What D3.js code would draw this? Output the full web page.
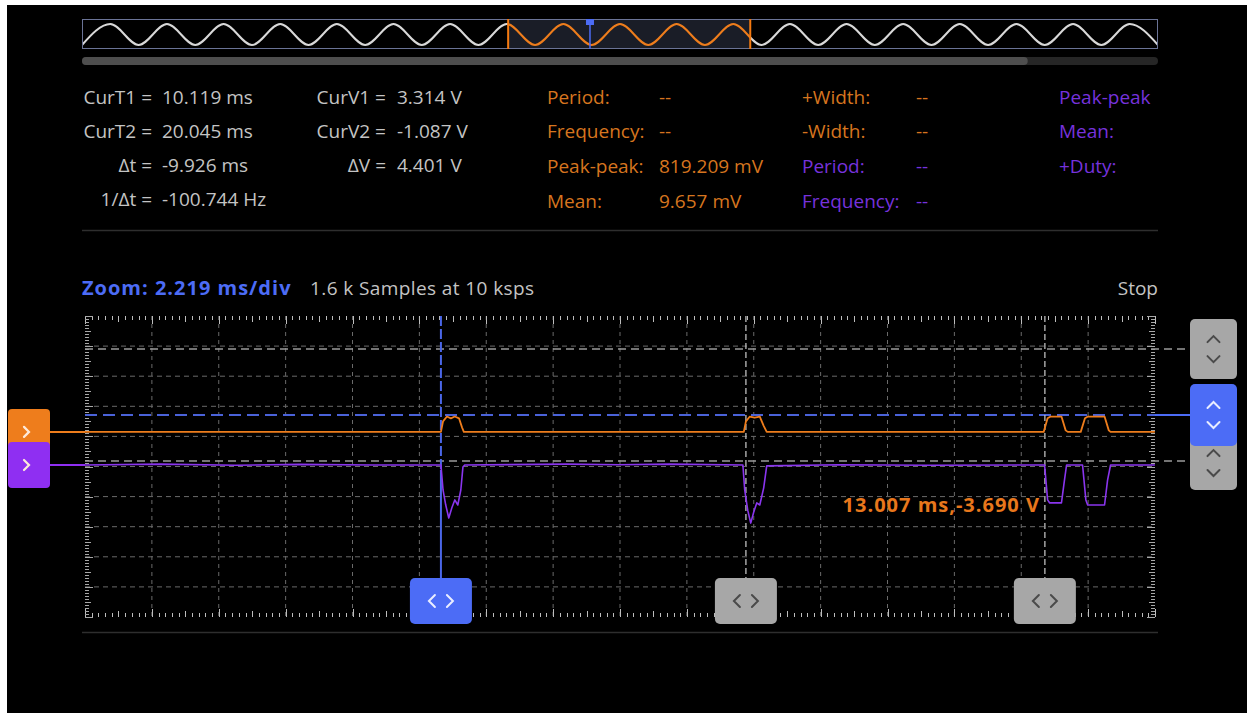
<!DOCTYPE html>
<html><head><meta charset="utf-8">
<script src="https://cdn.jsdelivr.net/npm/d3@7"></script>
<style>html,body{margin:0;padding:0;background:#fff;}svg{display:block;font-family:"Open Sans",sans-serif;}</style>
</head><body><svg id="c" width="1252" height="713"></svg>
<script>
// ---------------- data ----------------
const msPerDiv = 2.219;
const nDivX = 16, nDivY = 10;
// overview waveform: successive extremes (trough/peak), normalised
const overviewWave = [-1,1,-1,1,-1,1,-1,1,-1,1,-1,1,-1,1,-1,1,-1,1,-1,1,-1,1,-1,1,-1,1,-1,1,-1,1,-1,1,-1,1,-1,1,-1,1,-1];
const overviewWindow = [15.05, 23.6];
const overviewMarker = 17.94;
const overviewThumb = [0, 33.4];
// channel A (orange) – time in ms, value in divisions
const orangeT = [0, 11.81, 11.88, 12.01, 12.14, 12.27, 12.41, 12.51, 12.57, 21.86, 21.93, 22.06, 22.22, 22.39, 22.52, 22.62, 31.81, 31.94, 32.04, 32.40, 32.54, 32.61, 33.04, 33.18, 33.28, 33.83, 33.97, 34.03, 35.50];
const orangeV = [1.15, 1.15, 1.50, 1.66, 1.60, 1.66, 1.60, 1.30, 1.15, 1.15, 1.50, 1.66, 1.62, 1.66, 1.35, 1.15, 1.15, 1.60, 1.66, 1.66, 1.20, 1.15, 1.15, 1.60, 1.66, 1.66, 1.20, 1.15, 1.15];
// channel B (purple)
const purpleT = [0, 2.5, 5.0, 7.1, 9.5, 11.81, 11.88, 11.97, 12.07, 12.17, 12.27, 12.37, 12.47, 12.54, 12.60, 16.0, 17.7, 19.4, 21.83, 21.89, 21.99, 22.09, 22.19, 22.29, 22.39, 22.52, 22.62, 25.0, 28.0, 31.84, 31.94, 32.01, 32.40, 32.50, 32.57, 33.10, 33.21, 33.27, 33.83, 33.93, 34.03, 35.50];
const purpleV = [0.05, 0.08, 0.04, 0.07, 0.05, 0.05, -0.78, -1.28, -1.71, -1.38, -1.11, -1.28, -0.78, -0.02, 0.05, 0.08, 0.06, 0.08, 0.05, -0.78, -1.45, -1.88, -1.51, -1.21, -1.28, -0.71, 0.02, 0.06, 0.04, 0.05, -1.11, -1.21, -1.21, -0.45, 0.05, 0.05, -1.11, -1.28, -1.28, -0.45, 0.05, 0.05];
const channelBaselines = [1.15, 0.05];
// cursors
const timeCursors = [11.81, 21.93, 31.85];
const timeCursorActive = [true, false, false];
const voltCursors = [3.90, 1.71, 0.18];
const voltCursorActive = [false, true, false];
// readouts
const cursorTimeLabels = ["CurT1 =", "CurT2 =", "\u0394t =", "1/\u0394t ="];
const cursorTimeValues = ["10.119 ms", "20.045 ms", "-9.926 ms", "-100.744 Hz"];
const cursorVoltLabels = ["CurV1 =", "CurV2 =", "\u0394V ="];
const cursorVoltValues = ["3.314 V", "-1.087 V", "4.401 V"];
const measCol1Labels = ["Period:", "Frequency:", "Peak-peak:", "Mean:"];
const measCol1Values = ["--", "--", "819.209 mV", "9.657 mV"];
const measCol2Labels = ["+Width:", "-Width:", "Period:", "Frequency:"];
const measCol2Values = ["--", "--", "--", "--"];
const measCol2Channel = ["A", "A", "B", "B"];
const measCol3Labels = ["Peak-peak", "Mean:", "+Duty:"];
const zoomLabel = "Zoom: 2.219 ms/div";
const sampleLabel = "1.6 k Samples at 10 ksps";
const stateLabel = "Stop";
const probeLabel = "13.007 ms,-3.690 V";

// ---------------- styles ----------------
const ORANGE = "#ee7d1c", ORANGE_T = "#d6751f", PURPLE = "#8a35ee", PURPLE_T = "#7632dc";
const BLUE = "#4c6cf6", GREY_TXT = "#c4c4c4";
const FS = 19;

const svg = d3.select("#c");
svg.append("rect").attr("x",7).attr("y",5).attr("width",1240).attr("height",708).attr("fill","#000");

// ---------------- overview ----------------
const xO = d3.scaleLinear().domain([0, overviewWave.length-1]).range([82,1158]);
const yO = d3.scaleLinear().domain([-1,1]).range([45,24]);
const defs = svg.append("defs");
const wL = xO(overviewWindow[0]), wR = xO(overviewWindow[1]);
defs.append("clipPath").attr("id","outL").append("rect").attr("x",82).attr("y",15).attr("width",wL-82).attr("height",40);
defs.append("clipPath").attr("id","outR").append("rect").attr("x",wR).attr("y",15).attr("width",1158-wR).attr("height",40);
defs.append("clipPath").attr("id","win").append("rect").attr("x",wL).attr("y",15).attr("width",wR-wL).attr("height",40);
svg.append("rect").attr("x",wL).attr("y",19).attr("width",wR-wL).attr("height",30).attr("fill","#1a1d27");
const lineO = d3.line().x((d,i)=>xO(i)).y(d=>yO(d)).curve(d3.curveMonotoneX);
["outL","outR"].forEach(c=>svg.append("path").attr("d",lineO(overviewWave)).attr("clip-path",`url(#${c})`)
  .attr("fill","none").attr("stroke","#d8d8d8").attr("stroke-width",2));
svg.append("path").attr("d",lineO(overviewWave)).attr("clip-path","url(#win)")
  .attr("fill","none").attr("stroke",ORANGE).attr("stroke-width",2);
svg.append("rect").attr("x",82.5).attr("y",19.5).attr("width",1075).attr("height",29).attr("fill","none").attr("stroke","#6a7396").attr("stroke-width",1);
overviewWindow.forEach(w=>svg.append("line").attr("x1",xO(w)).attr("x2",xO(w)).attr("y1",19).attr("y2",49).attr("stroke","#f57a10").attr("stroke-width",2));
svg.append("line").attr("x1",xO(overviewMarker)).attr("x2",xO(overviewMarker)).attr("y1",20).attr("y2",49).attr("stroke",BLUE).attr("stroke-width",1.5);
svg.append("rect").attr("x",xO(overviewMarker)-4).attr("y",19).attr("width",8).attr("height",6).attr("fill",BLUE);
// scrollbar
const xS = d3.scaleLinear().domain([0,38]).range([82,1158]);
svg.append("rect").attr("x",82).attr("y",57).attr("width",1076).attr("height",8).attr("rx",4).attr("fill","#262626");
svg.append("rect").attr("x",xS(overviewThumb[0])).attr("y",57).attr("width",xS(overviewThumb[1])-xS(overviewThumb[0])).attr("height",8).attr("rx",4).attr("fill","#4e4e4e");

// ---------------- readouts ----------------
const rowY = [97, 131, 165, 199];
const txt = (x,y,s,fill,anchor="start",weight=400,size=FS,ls=0)=>svg.append("text").attr("x",x).attr("y",y).attr("dy","0.35em")
  .attr("font-size",size).attr("fill",fill).attr("text-anchor",anchor).attr("font-weight",weight).attr("letter-spacing",ls).text(s);
cursorTimeLabels.forEach((s,i)=>txt(152,rowY[i],s,GREY_TXT,"end"));
cursorTimeValues.forEach((s,i)=>txt(162,rowY[i],s,GREY_TXT));
cursorVoltLabels.forEach((s,i)=>txt(386,rowY[i],s,GREY_TXT,"end"));
cursorVoltValues.forEach((s,i)=>txt(397,rowY[i],s,GREY_TXT));
const mRowY = [97, 131, 166, 201];
measCol1Labels.forEach((s,i)=>txt(547,mRowY[i],s,ORANGE_T));
measCol1Values.forEach((s,i)=>txt(659,mRowY[i],s,ORANGE_T));
measCol2Labels.forEach((s,i)=>txt(802,mRowY[i],s,measCol2Channel[i]==="A"?ORANGE_T:PURPLE_T));
measCol2Values.forEach((s,i)=>txt(916,mRowY[i],s,measCol2Channel[i]==="A"?ORANGE_T:PURPLE_T));
measCol3Labels.forEach((s,i)=>txt(1059,mRowY[i],s,PURPLE_T));
svg.append("line").attr("x1",82).attr("x2",1158).attr("y1",230.5).attr("y2",230.5).attr("stroke","#2e2e2e").attr("stroke-width",1.5);

// header row
txt(82,288,zoomLabel,BLUE,"start",700,20,1);
txt(310,288,sampleLabel,GREY_TXT,"start",400,FS,0.4);
txt(1158,288,stateLabel,GREY_TXT,"end");

// ---------------- main plot ----------------
const x = d3.scaleLinear().domain([0, nDivX*msPerDiv]).range([85,1155]);
const y = d3.scaleLinear().domain([-nDivY/2, nDivY/2]).range([617,316]);
const g = svg.append("g");
// grid
d3.range(1,nDivX).forEach(k=>g.append("line").attr("x1",x(k*msPerDiv)).attr("x2",x(k*msPerDiv)).attr("y1",316).attr("y2",617)
  .attr("stroke","#6a6a6a").attr("stroke-dasharray","4,4").attr("stroke-width",1));
d3.range(-4,5).forEach(k=>g.append("line").attr("x1",85).attr("x2",1155).attr("y1",y(k)).attr("y2",y(k))
  .attr("stroke","#6a6a6a").attr("stroke-dasharray","5,4").attr("stroke-width",1));
// ticks
d3.range(0,nDivX*10+1).forEach(k=>{
  const len = k%10===0?8:(k%5===0?6:4), xx = Math.round(x(k*msPerDiv/10))+0.5;
  g.append("line").attr("x1",xx).attr("x2",xx).attr("y1",316).attr("y2",316+len).attr("stroke","#bdbdbd");
  g.append("line").attr("x1",xx).attr("x2",xx).attr("y1",617).attr("y2",617-len).attr("stroke","#bdbdbd");
});
d3.range(0,nDivY*10+1).forEach(k=>{
  const len = k%10===0?8:(k%5===0?6:4), yy = Math.round(y(-5+k/10))+0.5;
  g.append("line").attr("x1",85).attr("x2",85+len).attr("y1",yy).attr("y2",yy).attr("stroke","#a8a8a8");
  g.append("line").attr("x1",1155).attr("x2",1155-len).attr("y1",yy).attr("y2",yy).attr("stroke","#a8a8a8");
});
// voltage cursors
voltCursors.forEach((v,i)=>{
  if(voltCursorActive[i]){
    g.append("line").attr("x1",85).attr("x2",1155).attr("y1",y(v)).attr("y2",y(v)).attr("stroke","#4a62d8").attr("stroke-width",2).attr("stroke-dasharray","12,6");
    g.append("line").attr("x1",1155).attr("x2",1192).attr("y1",y(v)).attr("y2",y(v)).attr("stroke",BLUE).attr("stroke-width",2);
  } else {
    g.append("line").attr("x1",85).attr("x2",1192).attr("y1",y(v)).attr("y2",y(v)).attr("stroke","#9a9a9a").attr("stroke-width",1.5).attr("stroke-dasharray","8,5");
  }
});
// time cursors
timeCursors.forEach((t,i)=>{
  if(timeCursorActive[i]){
    g.append("line").attr("x1",x(t)).attr("x2",x(t)).attr("y1",316).attr("y2",470).attr("stroke","#4a66e8").attr("stroke-width",2).attr("stroke-dasharray","10,3");
    g.append("line").attr("x1",x(t)).attr("x2",x(t)).attr("y1",470).attr("y2",580).attr("stroke","#4a66e8").attr("stroke-width",2);
  } else {
    g.append("line").attr("x1",x(t)).attr("x2",x(t)).attr("y1",316).attr("y2",580).attr("stroke","#bdbdbd").attr("stroke-width",1.3).attr("stroke-dasharray","6,3");
  }
});
// traces
const line = d3.line().x(d=>x(d[0])).y(d=>y(d[1]));
g.append("path").attr("d",line(d3.zip(purpleT,purpleV))).attr("fill","none").attr("stroke",PURPLE).attr("stroke-width",1.6).attr("stroke-linejoin","round");
g.append("path").attr("d",line(d3.zip(orangeT,orangeV))).attr("fill","none").attr("stroke",ORANGE).attr("stroke-width",1.8).attr("stroke-linejoin","round");

// probe label
txt(1040,505,probeLabel,"#e8771c","end",700,20,1);

// left channel tabs
const tabColors = [ORANGE, "#8f2ff2"];
channelBaselines.forEach((b,i)=>{
  const cy = y(b);
  g.append("line").attr("x1",48).attr("x2",85).attr("y1",cy).attr("y2",cy).attr("stroke",tabColors[i]).attr("stroke-width",2);
  g.append("rect").attr("x",8).attr("y",cy-23).attr("width",42).attr("height",46).attr("rx",4).attr("fill",tabColors[i]);
  g.append("path").attr("d",`M${24},${cy-5} L${29},${cy} L${24},${cy+5}`).attr("fill","none").attr("stroke","#fde9d8").attr("stroke-width",2.2).attr("stroke-linecap","round");
});

// right voltage-cursor buttons (draw inactive first)
const vOrder = d3.range(voltCursors.length).sort((a,b)=>(voltCursorActive[a]?1:0)-(voltCursorActive[b]?1:0));
vOrder.forEach(i=>{
  const cy = y(voltCursors[i]), act = voltCursorActive[i];
  const h = act?62:(i===0?60:54), cc = act?cy:(i===0?cy:cy+2);
  g.append("rect").attr("x",1190).attr("y",cc-h/2).attr("width",47).attr("height",h).attr("rx",5).attr("fill",act?BLUE:"#a7a7a7");
  const sc = act?"#e9edff":"#4a4a4a", cx = 1213.5;
  g.append("path").attr("d",`M${cx-6},${cc-7} L${cx},${cc-13} L${cx+6},${cc-7}`).attr("fill","none").attr("stroke",sc).attr("stroke-width",2).attr("stroke-linecap","round");
  g.append("path").attr("d",`M${cx-6},${cc+7} L${cx},${cc+13} L${cx+6},${cc+7}`).attr("fill","none").attr("stroke",sc).attr("stroke-width",2).attr("stroke-linecap","round");
});

// bottom time-cursor buttons
timeCursors.forEach((t,i)=>{
  const cx = x(t), act = timeCursorActive[i], cy = 601;
  g.append("rect").attr("x",cx-31).attr("y",578).attr("width",62).attr("height",46).attr("rx",5).attr("fill",act?BLUE:"#a7a7a7");
  const sc = act?"#e9edff":"#4a4a4a";
  g.append("path").attr("d",`M${cx-6},${cy-6} L${cx-12},${cy} L${cx-6},${cy+6}`).attr("fill","none").attr("stroke",sc).attr("stroke-width",2).attr("stroke-linecap","round");
  g.append("path").attr("d",`M${cx+6},${cy-6} L${cx+12},${cy} L${cx+6},${cy+6}`).attr("fill","none").attr("stroke",sc).attr("stroke-width",2).attr("stroke-linecap","round");
});

svg.append("line").attr("x1",82).attr("x2",1158).attr("y1",632.5).attr("y2",632.5).attr("stroke","#2e2e2e").attr("stroke-width",1.5);
</script></body></html>
